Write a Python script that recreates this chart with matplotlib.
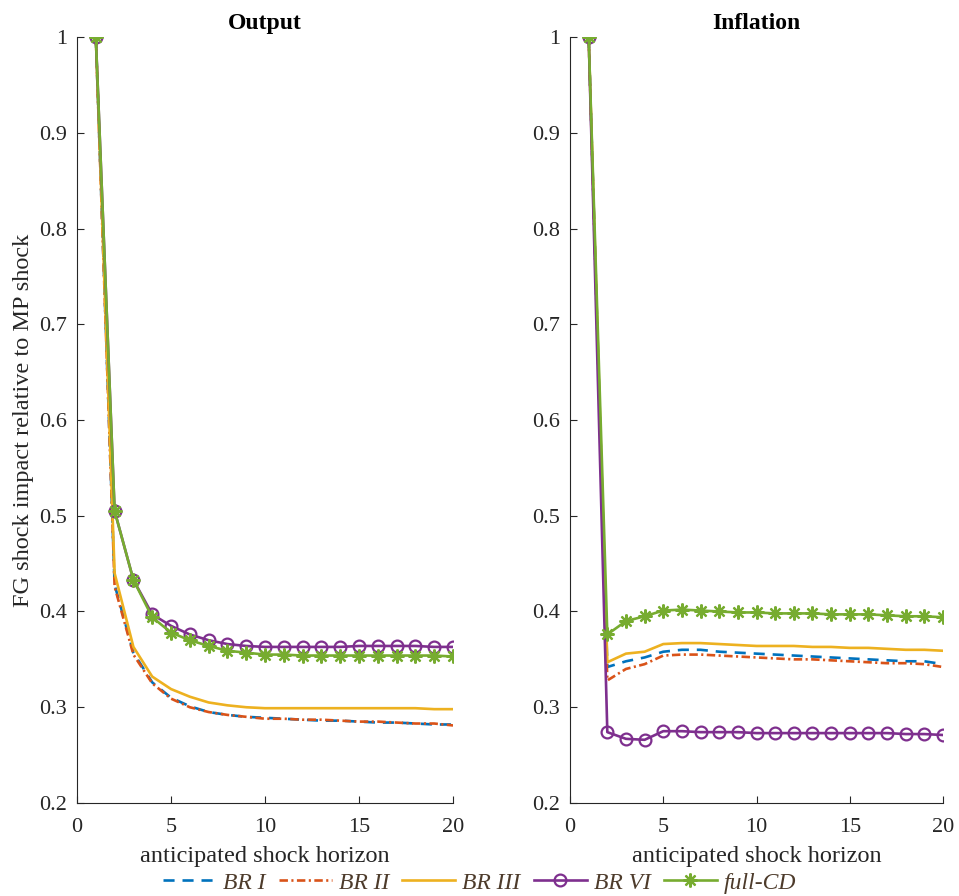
import matplotlib.pyplot as plt

plt.rcParams['font.family'] = ['Liberation Serif', 'DejaVu Serif']

horizon = list(range(1, 21))

# Output responses
out_br1 = [1, 0.428, 0.357, 0.326, 0.310, 0.301, 0.295, 0.292, 0.290, 0.289,
           0.288, 0.287, 0.286, 0.286, 0.285, 0.284, 0.284, 0.283, 0.282, 0.282]
out_br2 = [1, 0.426, 0.355, 0.325, 0.309, 0.300, 0.295, 0.292, 0.290, 0.288,
           0.288, 0.287, 0.287, 0.286, 0.285, 0.285, 0.284, 0.283, 0.283, 0.281]
out_br3 = [1, 0.440, 0.363, 0.332, 0.319, 0.311, 0.305, 0.302, 0.300, 0.299,
           0.299, 0.299, 0.299, 0.299, 0.299, 0.299, 0.299, 0.299, 0.298, 0.298]
out_br6 = [1, 0.505, 0.433, 0.397, 0.385, 0.376, 0.370, 0.366, 0.364, 0.363,
           0.363, 0.363, 0.363, 0.363, 0.364, 0.364, 0.364, 0.364, 0.363, 0.363]
out_fcd = [1, 0.505, 0.433, 0.394, 0.378, 0.370, 0.364, 0.359, 0.357, 0.355,
           0.355, 0.354, 0.354, 0.354, 0.354, 0.354, 0.354, 0.354, 0.354, 0.353]

# Inflation responses
inf_br1 = [1, 0.342, 0.348, 0.352, 0.358, 0.360, 0.360, 0.358, 0.357, 0.356,
           0.355, 0.354, 0.353, 0.352, 0.351, 0.350, 0.349, 0.348, 0.348, 0.345]
inf_br2 = [1, 0.328, 0.340, 0.345, 0.354, 0.355, 0.355, 0.354, 0.353, 0.352,
           0.351, 0.350, 0.350, 0.349, 0.348, 0.347, 0.346, 0.346, 0.345, 0.342]
inf_br3 = [1, 0.347, 0.356, 0.358, 0.366, 0.367, 0.367, 0.366, 0.365, 0.364,
           0.364, 0.364, 0.363, 0.363, 0.362, 0.362, 0.361, 0.360, 0.360, 0.359]
inf_br6 = [1, 0.274, 0.267, 0.266, 0.275, 0.275, 0.274, 0.274, 0.274, 0.273,
           0.273, 0.273, 0.273, 0.273, 0.273, 0.273, 0.273, 0.272, 0.272, 0.271]
inf_fcd = [1, 0.376, 0.390, 0.395, 0.401, 0.402, 0.401, 0.400, 0.399, 0.399,
           0.398, 0.398, 0.398, 0.397, 0.397, 0.397, 0.396, 0.395, 0.395, 0.394]

labels = ['BR I', 'BR II', 'BR III', 'BR VI', 'full-CD']
colors = ['#0072BD', '#D95319', '#EDB120', '#7E2F8E', '#77AC30']
styles = [
    dict(dashes=(4.2, 3.0)),
    dict(dashes=(3.2, 1.3, 0.8, 1.3)),
    dict(linestyle='-'),
    dict(linestyle='-', marker='o', markersize=8.5, markerfacecolor='none', markeredgewidth=1.6),
    dict(linestyle='-', marker=(8, 2, 0), markersize=10, markeredgewidth=1.6),
]

fig = plt.figure(figsize=(9.59, 8.96), dpi=100)
ax1 = fig.add_axes([0.0803, 0.1038, 0.3921, 0.8549])
ax2 = fig.add_axes([0.5944, 0.1038, 0.3889, 0.8549])

panels = [
    (ax1, 'Output', [out_br1, out_br2, out_br3, out_br6, out_fcd]),
    (ax2, 'Inflation', [inf_br1, inf_br2, inf_br3, inf_br6, inf_fcd]),
]

grey = '#262626'
for ax, title, series in panels:
    for vals, lab, col, st in zip(series, labels, colors, styles):
        ax.plot(horizon, vals, color=col, linewidth=1.9, label=lab, **st)
    ax.set_xlim(0, 20)
    ax.set_ylim(0.2, 1)
    ax.set_xticks([0, 5, 10, 15, 20])
    ax.set_yticks([0.2, 0.3, 0.4, 0.5, 0.6, 0.7, 0.8, 0.9, 1])
    ax.set_yticklabels(['0.2', '0.3', '0.4', '0.5', '0.6', '0.7', '0.8', '0.9', '1'])
    ax.set_title(title, fontsize=17, fontweight='bold', pad=6)
    ax.set_xlabel('anticipated shock horizon', fontsize=17.5, color=grey, labelpad=6)
    ax.spines['top'].set_visible(False)
    ax.spines['right'].set_visible(False)
    for s in ('left', 'bottom'):
        ax.spines[s].set_color(grey)
    ax.tick_params(direction='in', length=5, labelsize=16, colors=grey)
    ax.tick_params(axis='x', pad=11)
    ax.tick_params(axis='y', pad=7)

ax1.set_ylabel('FG shock impact relative to MP shock', fontsize=17.5, color=grey, labelpad=4)

handles, labs = ax1.get_legend_handles_labels()
leg = fig.legend(handles, labs, loc='lower center', ncol=5, frameon=False,
                 bbox_to_anchor=(0.5, -0.021), handlelength=2.25, columnspacing=0.55,
                 handletextpad=0.3, prop={'style': 'italic', 'size': 17})
for t in leg.get_texts():
    t.set_color('#4d3b2b')

fig.savefig('out.png', dpi=100)
